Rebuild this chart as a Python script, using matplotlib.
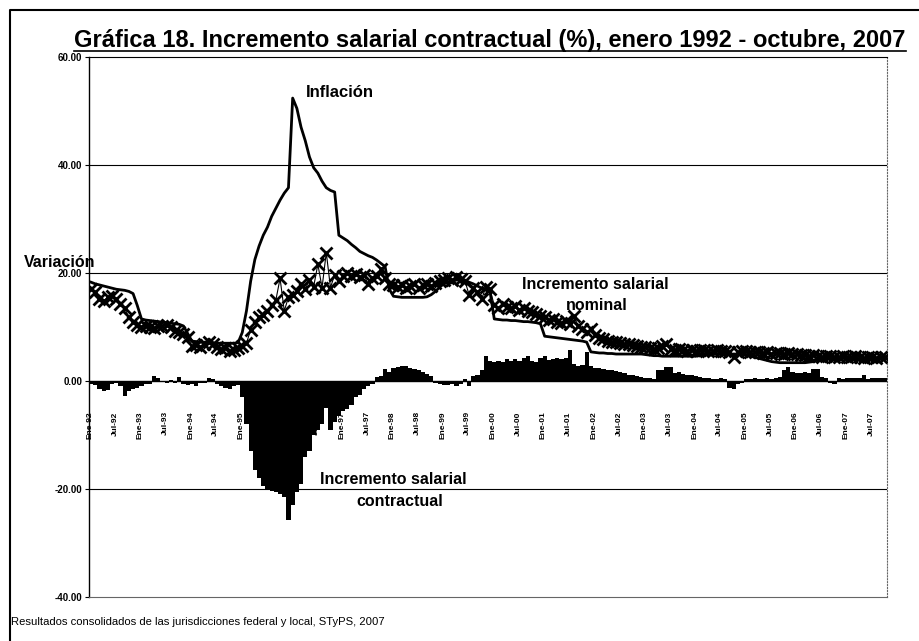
import matplotlib
matplotlib.use("Agg")
import matplotlib.pyplot as plt
from matplotlib.lines import Line2D

plt.rcParams["font.family"] = ["Liberation Sans", "DejaVu Sans"]

# ---- data, monthly Jan-1992 .. Oct-2007 ----
inflacion = [
    18.3, 18.0, 17.8, 17.6, 17.4, 17.2, 17.0, 16.9, 16.8, 16.6, 16.2, 14.0,   # 1992
    11.5, 11.3, 11.2, 11.1, 11.0, 10.9, 10.8, 10.7, 10.6, 10.5, 10.2, 8.8,    # 1993
    7.4, 7.3, 7.2, 7.2, 7.1, 7.1, 7.0, 7.0, 7.0, 7.0, 7.0, 7.1,               # 1994
    9.0, 13.0, 18.5, 22.5, 25.0, 27.0, 28.5, 30.5, 32.0, 33.5, 34.8, 35.8,    # 1995
    52.4, 50.5, 47.0, 44.5, 41.5, 39.5, 38.5, 37.0, 35.8, 35.3, 35.0, 27.0,   # 1996
    26.5, 26.0, 25.3, 24.7, 24.0, 23.6, 23.2, 22.9, 22.4, 21.8, 21.2, 17.0,   # 1997
    15.7, 15.6, 15.5, 15.5, 15.5, 15.5, 15.5, 15.5, 15.6, 16.0, 16.6, 17.4,   # 1998
    18.0, 18.3, 18.5, 18.7, 18.8, 18.7, 18.3, 18.0, 17.6, 17.2, 16.8, 16.5,   # 1999
    11.5, 11.4, 11.3, 11.3, 11.2, 11.2, 11.1, 11.0, 11.0, 10.9, 10.8, 10.6,   # 2000
    8.3, 8.2, 8.1, 8.0, 7.9, 7.8, 7.7, 7.6, 7.5, 7.4, 7.2, 5.4,               # 2001
    5.3, 5.2, 5.2, 5.1, 5.1, 5.0, 5.0, 5.0, 5.0, 5.0, 5.0, 5.0,               # 2002
    4.9, 4.8, 4.7, 4.7, 4.6, 4.6, 4.6, 4.6, 4.6, 4.6, 4.6, 4.6,               # 2003
    4.6, 4.7, 4.8, 4.9, 5.0, 5.0, 5.0, 5.0, 5.0, 5.0, 5.0, 4.9,               # 2004
    4.8, 4.6, 4.4, 4.2, 4.0, 3.8, 3.6, 3.5, 3.4, 3.4, 3.4, 3.4,               # 2005
    3.4, 3.4, 3.4, 3.5, 3.6, 3.9, 4.2, 4.3, 4.3, 4.3, 4.2, 4.2,               # 2006
    4.2, 4.2, 4.1, 4.1, 4.1, 4.1, 4.1, 4.1, 4.1, 4.1,                         # 2007
]

salario_nominal = [
    17.0, 16.5, 15.2, 14.8, 15.5, 15.8, 15.2, 14.2, 13.5, 11.8, 10.9, 10.3,   # 1992
    10.0, 10.1, 10.0, 9.8, 10.1, 10.2, 10.3, 10.0, 9.2, 9.0, 8.7, 8.1,        # 1993
    6.5, 6.6, 6.3, 6.8, 7.2, 6.9, 6.3, 6.0, 6.2, 5.5, 5.7, 6.2,               # 1994
    6.5, 7.0, 9.5, 11.0, 11.8, 12.2, 13.0, 14.0, 15.0, 19.0, 13.0, 15.5,      # 1995
    16.0, 16.6, 17.9, 17.0, 18.8, 17.5, 21.6, 17.3, 23.8, 17.3, 19.7, 18.5,   # 1996
    19.5, 20.1, 19.5, 19.8, 19.2, 19.6, 17.9, 19.0, 19.5, 20.7, 19.0, 18.0,   # 1997
    17.8, 17.5, 17.8, 17.2, 17.6, 17.9, 17.3, 17.7, 18.0, 17.6, 18.2, 18.5,   # 1998
    18.8, 19.0, 18.7, 19.2, 18.9, 18.6, 16.0, 17.2, 16.5, 15.1, 17.5, 17.0,   # 1999
    14.0, 13.6, 14.2, 13.8, 13.5, 13.9, 13.2, 13.6, 13.0, 12.7, 12.4, 12.0,   # 2000
    11.8, 11.3, 11.5, 11.0, 10.8, 11.2, 10.5, 12.0, 10.1, 9.6, 9.0, 9.6,      # 2001
    8.5, 8.0, 7.8, 7.5, 7.3, 7.2, 7.0, 6.8, 6.8, 6.6, 6.5, 6.3,               # 2002
    6.3, 6.2, 6.0, 6.2, 6.5, 6.8, 6.0, 5.8, 5.9, 5.8, 5.6, 5.7,               # 2003
    5.6, 5.8, 5.7, 5.6, 5.5, 5.8, 5.6, 5.5, 5.4, 4.4, 5.4, 5.5,               # 2004
    5.5, 5.4, 5.3, 5.4, 5.2, 5.3, 5.0, 5.2, 5.1, 5.0, 5.2, 5.0,               # 2005
    5.0, 4.9, 4.8, 4.6, 4.8, 4.7, 4.5, 4.6, 4.7, 4.5, 4.4, 4.6,               # 2006
    4.5, 4.4, 4.6, 4.4, 4.3, 4.5, 4.4, 4.3, 4.4, 4.4,                         # 2007
]

salario_real = [
    -0.5, -0.8, -1.5, -1.8, -1.6, -0.5, -0.3, -1.0, -2.8, -1.8, -1.5, -1.2,   # 1992
    -1.0, -0.6, -0.5, 0.9, 0.5, -0.2, -0.3, 0.2, -0.3, 0.8, -0.5, -0.8,       # 1993
    -0.6, -0.9, -0.4, -0.3, 0.6, 0.3, -0.6, -1.0, -1.2, -1.5, -1.0, -0.8,     # 1994
    -3.0, -8.0, -13.0, -16.5, -18.0, -19.5, -20.0, -20.3, -20.5, -21.0, -21.5, -25.8,  # 1995
    -23.0, -20.5, -19.0, -14.0, -13.0, -10.0, -9.0, -8.0, -5.0, -9.0, -7.5, -6.5,     # 1996
    -5.5, -5.2, -4.5, -3.0, -2.5, -1.5, -1.0, -0.5, 0.8, 1.0, 2.2, 1.6,       # 1997
    2.4, 2.6, 2.8, 2.7, 2.5, 2.2, 2.0, 1.7, 1.3, 1.0, -0.4, -0.6,             # 1998
    -0.7, -0.8, -0.6, -0.9, -0.5, 0.3, -1.0, 1.0, 1.2, 2.0, 4.6, 3.7,         # 1999
    3.5, 3.8, 3.6, 4.0, 3.7, 4.1, 3.8, 4.3, 4.6, 3.7, 3.6, 4.2,               # 2000
    4.6, 3.9, 4.1, 4.3, 4.0, 4.2, 5.7, 3.2, 2.8, 3.0, 5.3, 2.8,               # 2001
    2.5, 2.4, 2.2, 2.1, 2.0, 1.8, 1.7, 1.5, 1.2, 1.1, 1.0, 0.8,               # 2002
    0.6, 0.5, 0.3, 2.0, 2.0, 2.6, 2.6, 1.4, 1.6, 1.3, 1.1, 1.2,               # 2003
    1.0, 0.8, 0.6, 0.5, 0.4, 0.3, 0.5, 0.3, -1.2, -1.4, -0.5, -0.4,           # 2004
    0.3, 0.4, 0.5, 0.3, 0.4, 0.5, 0.3, 0.6, 0.8, 2.0, 2.6, 1.6,               # 2005
    1.5, 1.4, 1.6, 1.5, 2.3, 2.2, 0.8, 0.5, -0.3, -0.5, 0.5, 0.4,             # 2006
    0.5, 0.5, 0.6, 0.5, 1.1, 0.4, 0.5, 0.6, 0.5, 0.5,                         # 2007
]

anios = ["92", "93", "94", "95", "96", "97", "98", "99",
         "00", "01", "02", "03", "04", "05", "06", "07"]
etiquetas_x = [f"{mes}-{a}" for a in anios for mes in ("Ene", "Jul")]
y_ticks = [-40, -20, 0, 20, 40, 60]

meses = list(range(len(inflacion)))

fig = plt.figure(figsize=(9.2, 6.41), dpi=100)
ax = fig.add_axes([0.0967, 0.0686, 0.8674, 0.8424])

ax.bar(meses, salario_real, width=1.0, color="black", zorder=3)
ax.plot(meses, inflacion, color="black", lw=2.0, zorder=4)
ax.plot(meses, salario_nominal, color="black", lw=0.8, marker="x",
        markersize=8, markeredgewidth=2.0, zorder=5)

ax.set_xlim(-0.5, len(meses) - 0.5)
ax.set_ylim(-40, 60)
ax.set_yticks(y_ticks)
ax.set_yticklabels([f"{v:.2f}" for v in y_ticks], fontsize=7, fontweight="bold")
ax.tick_params(axis="y", length=3, width=0.8, pad=2)
ax.set_xticks([])

for v in (-20, 20, 40):
    ax.axhline(v, color="black", lw=0.8, zorder=1)
ax.axhline(0, color="black", lw=1.0, zorder=2)

# category labels hanging under the zero line
for i, lab in enumerate(etiquetas_x):
    ax.text(i * 6 - 0.3, -5.6, lab, rotation=90, ha="center", va="top",
            fontsize=6, fontweight="bold", zorder=2)

ax.spines["left"].set_linewidth(1.0)
ax.spines["top"].set_linewidth(0.8)
ax.spines["right"].set_color("0.4")
ax.spines["right"].set_linestyle(":")
ax.spines["bottom"].set_color("0.4")
ax.spines["bottom"].set_linewidth(0.8)

# annotations
ax.text(59.3, 53.5, "Inflación", fontsize=12, fontweight="bold", ha="center", va="center")
ax.text(-16.0, 21.2, "Variación", fontsize=11.5, fontweight="bold", clip_on=False)
ax.text(120, 17.8, "Incremento salarial", fontsize=11.5, fontweight="bold",
        ha="center", va="center")
ax.text(120.5, 14.0, "nominal", fontsize=11.5, fontweight="bold", ha="center", va="center")
ax.text(72, -18.3, "Incremento salarial", fontsize=11.5, fontweight="bold",
        ha="center", va="center")
ax.text(73.5, -22.4, "contractual", fontsize=11.5, fontweight="bold", ha="center", va="center")

titulo = fig.text(0.5326, 0.937, "Gráfica 18. Incremento salarial contractual (%), enero 1992 - octubre, 2007",
                  ha="center", va="center", fontsize=17, fontweight="bold")
fig.text(0.012, 0.03, "Resultados consolidados de las jurisdicciones federal y local, STyPS, 2007",
         fontsize=8.1, va="center")

# underline the title and draw the outer frame
fig.canvas.draw()
bb = titulo.get_window_extent().transformed(fig.transFigure.inverted())
fig.add_artist(Line2D([bb.x0, bb.x1], [bb.y0 + 0.002, bb.y0 + 0.002],
                      color="black", lw=1.2, transform=fig.transFigure))
fig.add_artist(Line2D([0.011, 0.011, 1.0], [0.0, 0.985, 0.985],
                      color="black", lw=1.5, transform=fig.transFigure))

fig.savefig("out.png", dpi=100)
